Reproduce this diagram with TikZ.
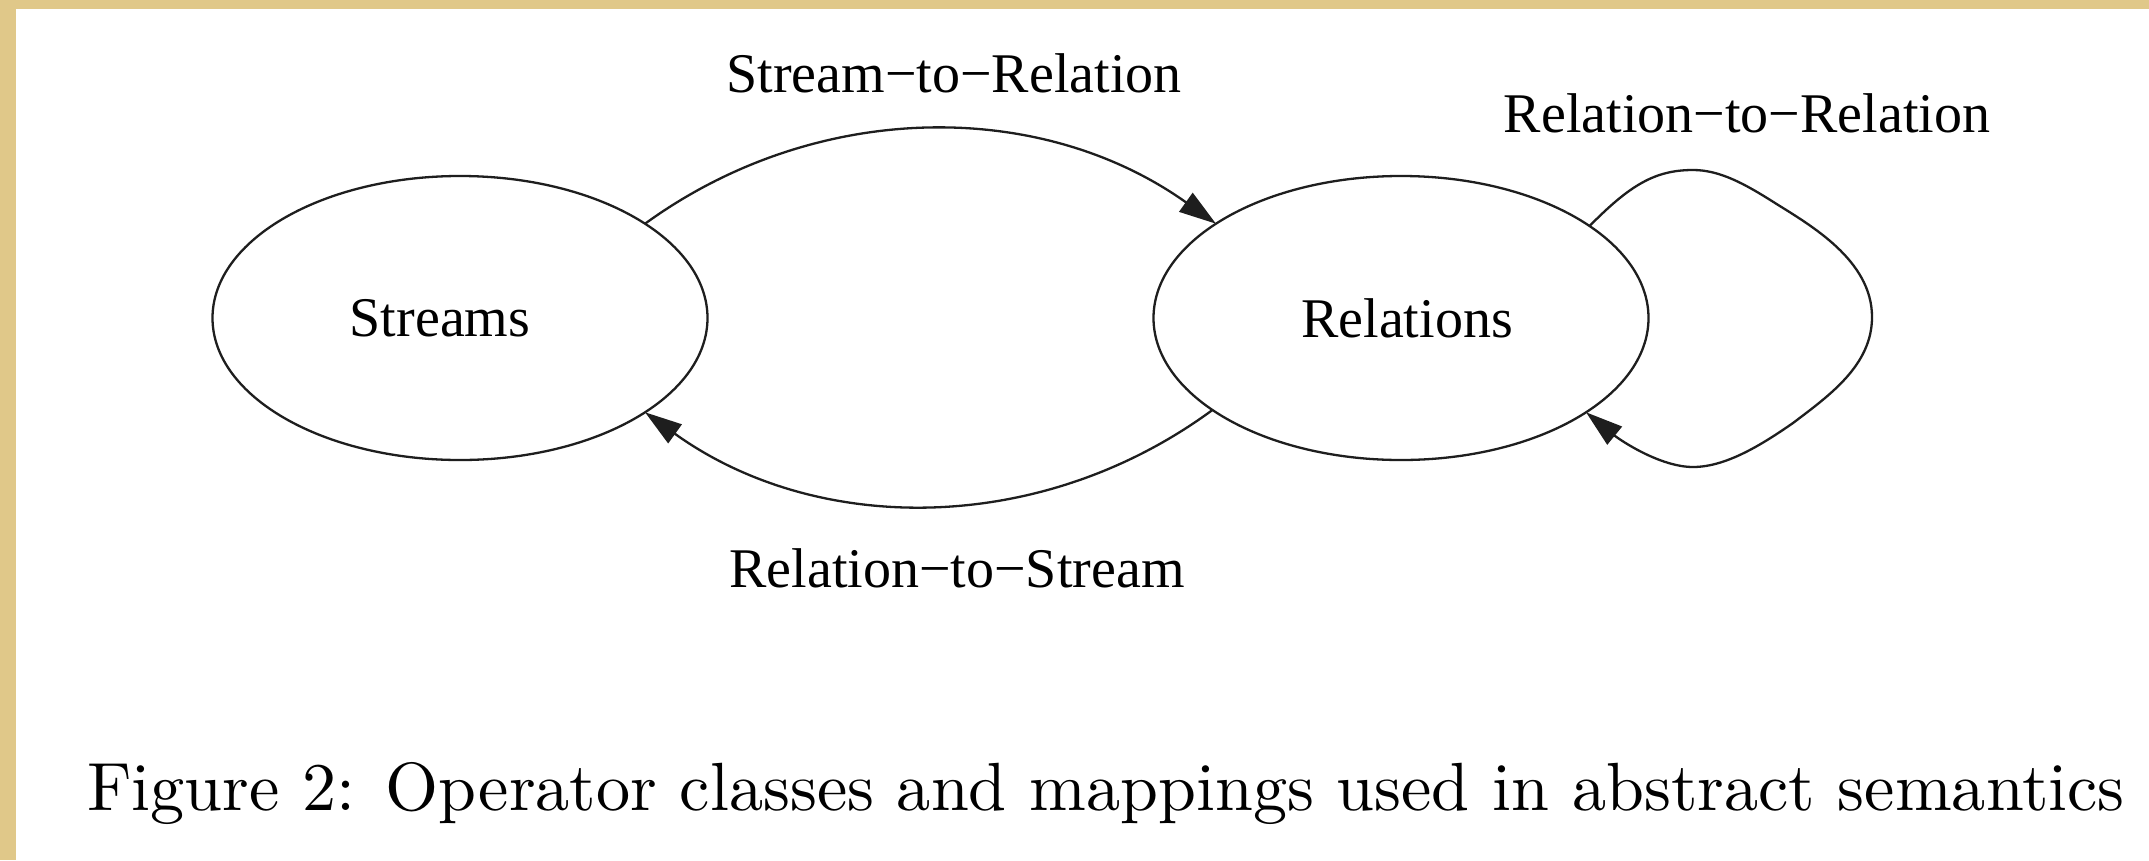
\documentclass[tikz,border=0pt]{standalone}
\usepackage{fontspec}
\newfontfamily\gvfont{Liberation Serif}
\newfontfamily\capfont{lmroman10-regular}[Extension=.otf]
\usetikzlibrary{shapes.geometric,arrows.meta}
\definecolor{paper}{RGB}{224,200,137}
\definecolor{ink}{RGB}{30,30,30}
\tikzset{
  opclass/.style={ellipse, draw=ink, line width=2.3pt, minimum width=495pt, minimum height=284pt, inner sep=0pt, outer sep=0pt, font=\gvfont\fontsize{56}{60}\selectfont},
  mapping/.style={draw=ink, line width=2.3pt, -{Triangle[length=37pt,width=23pt]}},
  edgelabel/.style={anchor=base, inner sep=0pt, font=\gvfont\fontsize{56}{60}\selectfont},
  captext/.style={anchor=base, inner sep=0pt, font=\capfont\fontsize{68.2}{80}\selectfont}
}
\begin{document}
\begin{tikzpicture}[x=1pt,y=-1pt]
\useasboundingbox (0,0) rectangle (2149,860);
\fill[paper] (0,0) rectangle (2149,860);
\fill[white] (16,9) rectangle (2149,860);

\node[opclass] (stm) at (460,318) {Streams\hspace*{40pt}};
\node[opclass] (rel) at (1401,318) {\hspace*{12pt}Relations};

\draw[mapping] (stm.27) .. controls (817,99) and (1041,99) .. (rel.153);
\draw[mapping] (rel.206) .. controls (1041,536) and (817,536) .. (stm.-27);
\draw[mapping] (rel.26) .. controls (1630,185) and (1655,170) .. (1693,170)
   .. controls (1720,170) and (1745,184) .. (1775,203)
   .. controls (1810,225) and (1872,260) .. (1872,317)
   .. controls (1872,365) and (1830,395) .. (1793,423)
   .. controls (1760,446) and (1725,467) .. (1693,467)
   .. controls (1660,467) and (1620,440) .. (rel.-27);

\node[edgelabel] (l1) at (954,92) {Stream−to−Relation};
\node[edgelabel] (l2) at (957,587) {Relation−to−Stream};
\node[edgelabel] (l3) at (1747,132) {Relation−to−Relation};

\node[captext] (cap) at (1106,810) {Figure 2: Operator classes and mappings used in abstract semantics};
\end{tikzpicture}
\end{document}
